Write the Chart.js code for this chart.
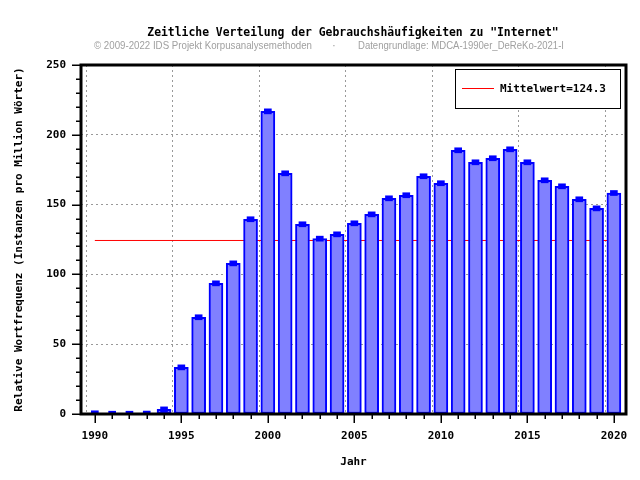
<!DOCTYPE html>
<html>
<head>
<meta charset="utf-8">
<script src="https://cdn.jsdelivr.net/npm/chart.js@4.4.0/dist/chart.umd.min.js"></script>
<style>
  html, body { margin: 0; padding: 0; background: #fff; }
</style>
</head>
<body>
<canvas id="bar-chartcanvas" width="640" height="480"></canvas>
<script>
var years = [1990, 1991, 1992, 1993, 1994, 1995, 1996, 1997, 1998, 1999,
             2000, 2001, 2002, 2003, 2004, 2005, 2006, 2007, 2008, 2009,
             2010, 2011, 2012, 2013, 2014, 2015, 2016, 2017, 2018, 2019, 2020];
var frequency = [0.5, 0.2, 0.2, 0.3, 3.3, 33.4, 69.3, 93.6, 107.9, 139.5,
                 216.8, 172.4, 135.9, 125.6, 128.7, 136.6, 143.0, 154.5, 156.7, 170.3,
                 165.3, 188.9, 180.3, 183.2, 189.6, 180.3, 167.4, 163.1, 153.8, 147.3, 158.3];
var meanValue = 124.3;
var meanLabel = "Mittelwert=124.3";
var chartTitle = 'Zeitliche Verteilung der Gebrauchshäufigkeiten zu "Internet"';
var creditLeft = "© 2009-2022 IDS Projekt Korpusanalysemethoden";
var creditRight = "Datengrundlage: MDCA-1990er_DeReKo-2021-I";

var mono = '"DejaVu Sans Mono", monospace';

// bars, small markers on top, and the red mean line
var barData = years.map(function(y, i) { return {x: y, y: frequency[i]}; });
var markData = years.map(function(y, i) { return {x: y, y: [frequency[i] - 1.8, frequency[i] + 1.8]}; });
var meanData = [{x: years[0], y: meanValue}, {x: years[years.length - 1], y: meanValue}];

// frame, small ticks, titles and legend box
var decor = {
	id: "decor",
	afterDraw: function(chart) {
		var c = chart.ctx, a = chart.chartArea;
		var xs = chart.scales.x, ys = chart.scales.y;
		c.save();
		c.strokeStyle = "#000";
		c.lineWidth = 1;
		c.beginPath();
		years.forEach(function(y) {
			var px = Math.round(xs.getPixelForValue(y)) + 0.5;
			var len = y % 5 === 0 ? 9 : 5;
			c.moveTo(px, a.bottom); c.lineTo(px, a.bottom + len);
			c.moveTo(px - 0.5, a.bottom); c.lineTo(px - 0.5, a.bottom + len);
		});
		for (var v = 0; v <= 250; v += 10) {
			var py = Math.round(ys.getPixelForValue(v)) + 0.5;
			var l = v % 50 === 0 ? 9 : 5;
			c.moveTo(a.left - l, py); c.lineTo(a.left, py);
			c.moveTo(a.left - l, py - 0.5); c.lineTo(a.left, py - 0.5);
		}
		c.stroke();
		c.lineWidth = 3;
		c.strokeRect(a.left, a.top, a.right - a.left, a.bottom - a.top);

		// legend
		c.lineWidth = 1;
		c.fillStyle = "#fff";
		c.fillRect(455.5, 69.5, 165, 39);
		c.strokeRect(455.5, 69.5, 165, 39);
		c.strokeStyle = "#ff0000";
		c.beginPath(); c.moveTo(462, 88.5); c.lineTo(494, 88.5); c.stroke();
		c.fillStyle = "#000";
		c.font = "bold 11px " + mono;
		c.textBaseline = "middle";
		c.textAlign = "left";
		c.fillText(meanLabel, 500, 89);

		// titles
		c.font = "bold 11.4px " + mono;
		c.textAlign = "center";
		c.fillText(chartTitle, 353, 33);
		c.font = '11.5px "Liberation Sans", sans-serif';
		c.fillStyle = "#a0a0a0";
		c.textAlign = "left";
		c.fillText(creditLeft, 94, 46, 218);
		c.textAlign = "center";
		c.fillText("·", 334, 46);
		c.textAlign = "left";
		c.fillText(creditRight, 358, 46, 206);
		c.restore();
	}
};

var ctx = document.getElementById("bar-chartcanvas");

var chart = new Chart(ctx, {
	type: "bar",
	data: {
		datasets: [
			{
				label: "Marker",
				data: markData,
				backgroundColor: "rgb(0, 0, 255)",
				borderWidth: 0,
				barThickness: 7,
				grouped: false,
				order: 1
			},
			{
				label: "Internet",
				data: barData,
				backgroundColor: "rgb(128, 128, 255)",
				borderColor: "rgb(0, 0, 255)",
				borderWidth: 2,
				borderSkipped: false,
				barThickness: 14,
				grouped: false,
				order: 2
			},
			{
				type: "line",
				label: meanLabel,
				data: meanData,
				borderColor: "rgb(255, 0, 0)",
				borderWidth: 1,
				pointRadius: 0,
				fill: false,
				order: 3
			}
		]
	},
	options: {
		responsive: false,
		animation: false,
		layout: { padding: { top: 65, right: 14, left: 0, bottom: 0 } },
		plugins: {
			legend: { display: false },
			tooltip: { enabled: false },
			title: { display: false }
		},
		scales: {
			x: {
				type: "linear",
				min: 1989.2,
				max: 2020.7,
				offset: false,
				afterFit: function(s) { s.height = 66; s.paddingLeft = 0; s.paddingRight = 0; },
				ticks: {
					stepSize: 1,
					includeBounds: false,
					autoSkip: false,
					maxRotation: 0,
					padding: 16,
					color: "#000",
					font: { family: mono, size: 11, weight: "bold" },
					callback: function(v) { return v % 5 === 0 ? String(v) : ""; }
				},
				grid: {
					drawTicks: false,
					lineWidth: 1,
					color: function(c) { return c.tick && c.tick.value % 5 === 0 ? "#999" : "rgba(0,0,0,0)"; }
				},
				border: { display: false, dash: [2, 3] },
				title: {
					display: true,
					text: "Jahr",
					color: "#000",
					font: { family: mono, size: 11, weight: "bold" },
					padding: { top: 0, bottom: 11 }
				}
			},
			y: {
				min: 0,
				max: 250,
				afterFit: function(s) { s.width = 81; s.paddingTop = 0; s.paddingBottom = 0; },
				ticks: {
					stepSize: 10,
					autoSkip: false,
					padding: 15,
					color: "#000",
					font: { family: mono, size: 11, weight: "bold" },
					callback: function(v) { return v % 50 === 0 ? String(v) : ""; }
				},
				grid: {
					drawTicks: false,
					lineWidth: 1,
					color: function(c) { return c.tick && c.tick.value % 50 === 0 && c.tick.value > 0 ? "#999" : "rgba(0,0,0,0)"; }
				},
				border: { display: false, dash: [2, 3] },
				title: {
					display: true,
					text: "Relative Wortfrequenz (Instanzen pro Million Wörter)",
					color: "#000",
					font: { family: mono, size: 11, weight: "bold" },
					padding: { top: 13, bottom: 0 }
				}
			}
		}
	},
	plugins: [decor]
});
</script>
</body>
</html>
